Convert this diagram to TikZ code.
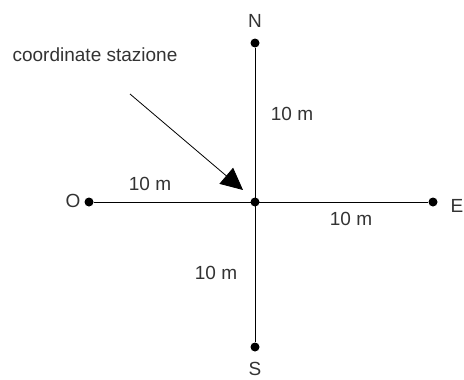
\documentclass[tikz,border=0pt]{standalone}
\usepackage{fontspec}
\setmainfont{Liberation Sans}
\usepackage{tikz}
\usetikzlibrary{arrows.meta,positioning}

\begin{document}
\begin{tikzpicture}[x=1pt, y=-1pt,
    punto/.style={circle, fill=black, inner sep=0pt, minimum size=9pt},
    asse/.style={line width=1pt},
    etichetta/.style={font=\fontsize{19}{22}\selectfont, text=black!80, inner sep=1pt},
    freccia/.style={line width=0.8pt, -{Triangle[length=22pt,width=21pt]}}]

    \useasboundingbox (0,0) rectangle (464,380);

    % Punti
    \node [punto] (centro) at (255,202) {};
    \node [punto] (nord) at (255,43) {};
    \node [punto] (sud) at (255,347) {};
    \node [punto] (ovest) at (89,202) {};
    \node [punto] (est) at (433,202) {};

    % Nomi dei punti cardinali
    \node [etichetta] (lblN) at (255,21) {N};
    \node [etichetta] (lblS) at (255,369) {S};
    \node [etichetta] (lblO) at (73,201) {O};
    \node [etichetta] (lblE) at (457,206) {E};

    % Assi
    \draw[asse] (nord) -- (sud);
    \draw[asse] (ovest) -- (est);

    % Distanze
    \node [etichetta] (dNord) at (292,114) {10 m};
    \node [etichetta] (dOvest) at (150,184) {10 m};
    \node [etichetta] (dEst) at (351,219) {10 m};
    \node [etichetta] (dSud) at (216,273) {10 m};

    % Freccia verso la stazione
    \node [etichetta] (stazione) at (95,55) {coordinate stazione};
    \coordinate (inizio) at (130,94);
    \coordinate (punta) at (243,190);
    \draw[freccia] (inizio) -- (punta);

\end{tikzpicture}
\end{document}
